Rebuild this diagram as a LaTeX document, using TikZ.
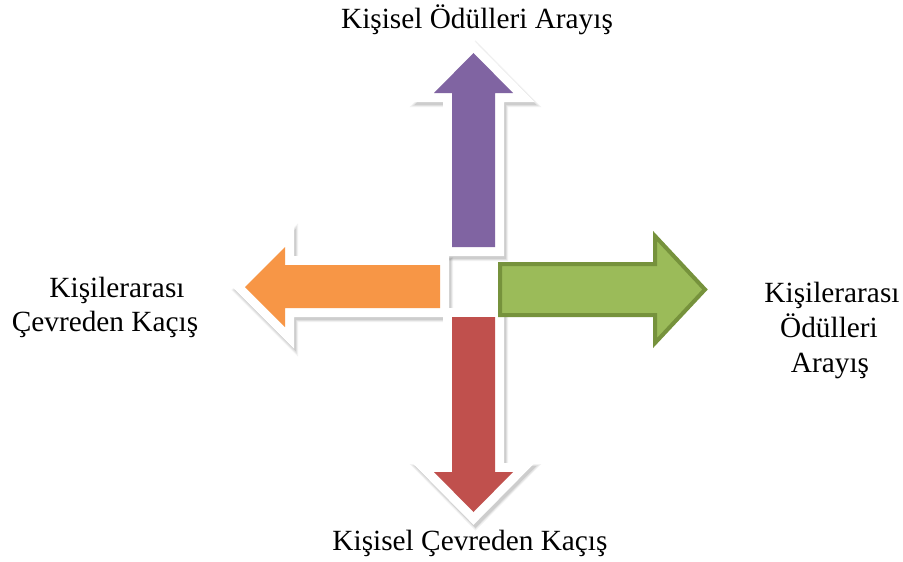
\documentclass[tikz,border=0pt]{standalone}
\usepackage{fontspec}
\setmainfont{Liberation Serif}
\definecolor{upfill}{HTML}{8064A2}
\definecolor{leftfill}{HTML}{F79646}
\definecolor{downfill}{HTML}{C0504D}
\definecolor{rightfill}{HTML}{9BBB59}
\definecolor{rightline}{HTML}{76923C}
\tikzset{
  label/.style={anchor=base, inner sep=0pt, font=\fontsize{29.3}{35}\selectfont},
  halo/.style={draw=white, fill=white, line width=18pt, line join=miter, miter limit=10},
  shade1/.style={draw=black, fill=black, line width=22pt, line join=miter, opacity=0.05, shift={(2,3)}},
  shade2/.style={draw=black, fill=black, line width=20pt, line join=miter, opacity=0.07, shift={(2,3)}},
  shade3/.style={draw=black, fill=black, line width=18pt, line join=miter, opacity=0.09, shift={(2,3)}},
}
\begin{document}
\begin{tikzpicture}[x=1pt, y=-1pt]
\useasboundingbox (0,0) rectangle (903,562);

% arrow outlines, pixel-style coordinates
\def\uparrowpath{(473.5,53) -- (513,93) -- (495,93) -- (495,247) -- (452,247) -- (452,93) -- (434,93) -- cycle}
\def\leftarrowpath{(245,287) -- (285,247) -- (285,265) -- (440,265) -- (440,308) -- (285,308) -- (285,327) -- cycle}
\def\downarrowpath{(473.5,512) -- (434,472) -- (452,472) -- (452,317) -- (495,317) -- (495,472) -- (513,472) -- cycle}

% upward arrow
\foreach \s in {shade1,shade2,shade3} {\path[\s] \uparrowpath;}
\path[halo] \uparrowpath;
\fill[upfill] \uparrowpath;

% leftward arrow
\foreach \s in {shade1,shade2,shade3} {\path[\s] \leftarrowpath;}
\path[halo] \leftarrowpath;
\fill[leftfill] \leftarrowpath;

% downward arrow
\foreach \s in {shade1,shade2,shade3} {\path[\s] \downarrowpath;}
\path[halo] \downarrowpath;
\fill[downfill] \downarrowpath;

% rightward arrow
\draw[fill=rightfill, draw=rightline, line width=4pt, line join=miter]
  (500,264) -- (655,264) -- (655,236) -- (705,289.5) -- (655,343) -- (655,315) -- (500,315) -- cycle;

% labels
\node[label] (top) at (477,28) {Kişisel Ödülleri Arayış};
\node[label] (left1) at (117,297) {Kişilerarası};
\node[label] (left2) at (105,331) {Çevreden Kaçış};
\node[label] (right1) at (832,302) {Kişilerarası};
\node[label] (right2) at (829,337) {Ödülleri};
\node[label] (right3) at (830,372) {Arayış};
\node[label] (bottom) at (470,550) {Kişisel Çevreden Kaçış};
\end{tikzpicture}
\end{document}
